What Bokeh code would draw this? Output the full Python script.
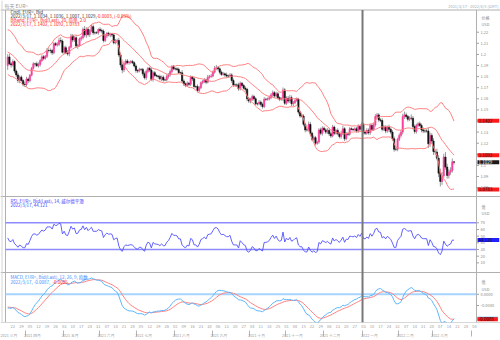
import numpy as np
import pandas as pd
from bokeh.plotting import figure
from bokeh.models import (Range1d, LinearAxis, FixedTicker, Span, Label, ColumnDataSource)
from bokeh.embed import file_html
from bokeh.resources import INLINE

FONT = "Noto Sans CJK SC"

# ---- daily closes (EUR= bid) ----
warmup_closes = [  # 2021-01-04 .. 2021-03-16 (only used for indicator warm-up)
    1.2250, 1.2295, 1.2325, 1.2270, 1.2220, 1.2150, 1.2210, 1.2160, 1.2155, 1.2080,
    1.2075, 1.2130, 1.2105, 1.2165, 1.2170, 1.2140, 1.2160, 1.2110, 1.2115, 1.2135,
    1.2060, 1.2040, 1.2035, 1.1965, 1.2045, 1.2050, 1.2120, 1.2120, 1.2130, 1.2120,
    1.2130, 1.2105, 1.2040, 1.2090, 1.2120, 1.2155, 1.2150, 1.2165, 1.2175, 1.2075,
    1.2050, 1.2090, 1.2065, 1.1965, 1.1915, 1.1850, 1.1900, 1.1925, 1.1985, 1.1950,
    1.1930, 1.1900]
closes_2021_03 = [1.1977, 1.1915, 1.1905, 1.1935, 1.1850, 1.1815, 1.1765, 1.1795, 1.1765, 1.1730, 1.1728]
closes_2021_04 = [1.1778, 1.1763, 1.1813, 1.1875, 1.1915, 1.1915, 1.1898, 1.1910, 1.1945, 1.1978, 1.1965,
                  1.1983, 1.2035, 1.2035, 1.2035, 1.2015, 1.2097, 1.2085, 1.2090, 1.2125, 1.2120, 1.2020]
closes_2021_05 = [1.2060, 1.2015, 1.2005, 1.2065, 1.2165, 1.2130, 1.2150, 1.2075, 1.2080, 1.2140, 1.2150,
                  1.2225, 1.2175, 1.2225, 1.2180, 1.2215, 1.2250, 1.2195, 1.2195, 1.2195, 1.2225]
closes_2021_06 = [1.2215, 1.2210, 1.2125, 1.2165, 1.2190, 1.2175, 1.2180, 1.2175, 1.2105, 1.2120, 1.2125,
                  1.1995, 1.1905, 1.1860, 1.1915, 1.1940, 1.1925, 1.1930, 1.1935, 1.1925, 1.1895, 1.1855]
closes_2021_07 = [1.1850, 1.1865, 1.1865, 1.1825, 1.1790, 1.1845, 1.1875, 1.1860, 1.1775, 1.1835, 1.1810,
                  1.1805, 1.1800, 1.1780, 1.1795, 1.1770, 1.1770, 1.1800, 1.1815, 1.1845, 1.1890, 1.1870]
closes_2021_08 = [1.1870, 1.1865, 1.1835, 1.1835, 1.1760, 1.1735, 1.1720, 1.1740, 1.1730, 1.1795, 1.1780,
                  1.1710, 1.1710, 1.1675, 1.1700, 1.1745, 1.1755, 1.1770, 1.1750, 1.1795, 1.1800, 1.1805]
closes_2021_09 = [1.1840, 1.1875, 1.1880, 1.1870, 1.1840, 1.1820, 1.1825, 1.1815, 1.1805, 1.1805, 1.1815,
                  1.1765, 1.1725, 1.1725, 1.1725, 1.1690, 1.1740, 1.1720, 1.1695, 1.1685, 1.1600, 1.1580]
closes_2021_10 = [1.1595, 1.1620, 1.1600, 1.1555, 1.1555, 1.1570, 1.1550, 1.1530, 1.1595, 1.1595, 1.1600,
                  1.1610, 1.1635, 1.1655, 1.1625, 1.1645, 1.1610, 1.1595, 1.1600, 1.1680, 1.1560]
closes_2021_11 = [1.1605, 1.1580, 1.1610, 1.1555, 1.1565, 1.1585, 1.1595, 1.1480, 1.1445, 1.1445, 1.1370,
                  1.1320, 1.1320, 1.1370, 1.1290, 1.1235, 1.1250, 1.1200, 1.1210, 1.1320, 1.1290, 1.1335]
closes_2021_12 = [1.1320, 1.1300, 1.1315, 1.1285, 1.1265, 1.1345, 1.1290, 1.1315, 1.1285, 1.1260, 1.1290,
                  1.1330, 1.1240, 1.1285, 1.1280, 1.1330, 1.1325, 1.1320, 1.1330, 1.1310, 1.1350, 1.1325, 1.1370]
closes_2022_01 = [1.1300, 1.1290, 1.1315, 1.1295, 1.1360, 1.1325, 1.1365, 1.1440, 1.1455, 1.1410, 1.1405,
                  1.1325, 1.1345, 1.1310, 1.1345, 1.1325, 1.1300, 1.1240, 1.1145, 1.1145, 1.1235]
closes_2022_02 = [1.1270, 1.1300, 1.1440, 1.1455, 1.1440, 1.1415, 1.1425, 1.1425, 1.1350, 1.1305, 1.1360,
                  1.1375, 1.1360, 1.1320, 1.1310, 1.1310, 1.1310, 1.1195, 1.1270, 1.1220]
closes_2022_03 = [1.1125, 1.1120, 1.1065, 1.0930, 1.0855, 1.0905, 1.1075, 1.0985, 1.0910, 1.0940, 1.0955,
                  1.1032, 1.1029]

# upper / lower wick lengths in pips beyond the candle body
upper_wick_pips = [
    25, 30, 18, 20, 12, 15, 20, 14, 16, 12, 24,
    20, 15, 10, 12, 14, 10, 20, 18, 12, 15, 16, 12, 22, 20, 18, 15, 12, 14, 20, 25, 30, 15,
    15, 20, 25, 12, 20, 18, 15, 20, 14, 12, 16, 18, 30, 20, 15, 12, 16, 20, 12, 14, 10,
    20, 18, 15, 20, 12, 14, 16, 12, 10, 18, 16, 25, 20, 14, 22, 15, 18, 12, 14, 16, 12, 15,
    12, 15, 10, 14, 20, 18, 12, 15, 20, 14, 16, 12, 10, 18, 14, 15, 12, 20, 16, 18, 12, 15,
    12, 14, 16, 10, 25, 15, 12, 18, 14, 16, 12, 14, 10, 20, 15, 12, 14, 16, 12, 20, 15, 18,
    15, 20, 25, 12, 14, 16, 18, 12, 20, 14, 16, 15, 18, 12, 14, 20, 16, 12, 14, 18, 15, 16,
    15, 18, 16, 14, 12, 18, 15, 16, 20, 14, 12, 18, 16, 20, 14, 18, 16, 12, 14, 22, 16,
    18, 20, 25, 20, 15, 12, 16, 14, 12, 18, 16, 14, 20, 25, 22, 14, 18, 16, 12, 15, 20, 18,
    16, 14, 20, 18, 16, 20, 14, 12, 18, 16, 22, 25, 14, 16, 18, 15, 12, 10, 14, 16, 20, 12, 18,
    14, 16, 20, 18, 15, 14, 20, 22, 18, 16, 15, 20, 18, 16, 14, 22, 15, 18, 20, 16, 14,
    18, 20, 25, 30, 20, 16, 18, 35, 20, 18, 16, 14, 20, 18, 22, 16, 18, 30, 25, 20,
    25, 20, 30, 28, 40, 35, 30, 45, 30, 25, 28, 30, 4]
lower_wick_pips = [
    40, 12, 25, 15, 20, 18, 22, 25, 12, 18, 22,
    18, 20, 15, 10, 12, 25, 12, 16, 20, 14, 18, 12, 15, 18, 25, 20, 14, 12, 16, 15, 20, 12,
    20, 14, 16, 22, 12, 20, 18, 15, 25, 12, 18, 15, 20, 25, 18, 22, 14, 20, 16, 12, 18,
    15, 20, 18, 14, 16, 12, 20, 18, 15, 14, 20, 18, 25, 30, 20, 12, 15, 18, 16, 14, 12, 20,
    18, 12, 15, 20, 15, 20, 14, 18, 16, 20, 14, 12, 18, 15, 20, 16, 12, 14, 18, 15, 16, 12,
    16, 14, 12, 18, 14, 20, 15, 12, 18, 14, 20, 16, 15, 18, 14, 12, 16, 14, 18, 12, 14, 10,
    12, 14, 18, 16, 20, 14, 12, 18, 15, 16, 14, 20, 18, 15, 20, 18, 14, 16, 12, 20, 22, 18,
    20, 14, 18, 12, 16, 14, 20, 18, 14, 16, 12, 15, 14, 18, 16, 12, 14, 16, 12, 20, 15,
    15, 20, 18, 22, 20, 14, 12, 20, 16, 14, 18, 22, 16, 14, 20, 18, 16, 20, 14, 15, 18, 22,
    14, 18, 16, 20, 18, 12, 16, 14, 15, 18, 20, 16, 22, 14, 16, 12, 10, 8, 12, 14, 16, 18, 14,
    20, 16, 14, 18, 20, 15, 14, 16, 18, 20, 16, 18, 14, 20, 16, 25, 18, 20, 22, 16, 18,
    16, 18, 20, 22, 18, 20, 16, 18, 25, 20, 18, 16, 14, 22, 20, 18, 16, 40, 30, 22,
    30, 25, 20, 35, 45, 30, 20, 25, 30, 28, 25, 20, 22]

price_ticks = [1.08, 1.09, 1.1, 1.11, 1.12, 1.13, 1.14, 1.15, 1.16, 1.17, 1.18, 1.19, 1.2, 1.21, 1.22]
price_tick_labels = ["1.08", "1.09", "1.1", "1.11", "1.12", "1.13", "1.14", "1.15", "1.16", "1.17",
                     "1.18", "1.19", "1.2", "1.21", "1.22"]
rsi_ticks = [10, 20, 30, 40, 50, 60, 70]
macd_ticks = [0.0, -0.004]
macd_tick_labels = ["0.0000", "-0.0040"]
month_names = ["一月", "二月", "三月", "四月", "五月", "六月", "七月", "八月", "九月", "十月", "十一月", "十二月"]

# ---- assemble data ----
closes = (closes_2021_03 + closes_2021_04 + closes_2021_05 + closes_2021_06 + closes_2021_07 +
          closes_2021_08 + closes_2021_09 + closes_2021_10 + closes_2021_11 + closes_2021_12 +
          closes_2022_01 + closes_2022_02 + closes_2022_03)
n = len(closes)
dates = pd.bdate_range("2021-03-17", periods=n)
axis_dates = pd.bdate_range("2021-03-17", "2022-04-05")
idx = np.arange(n)
opens = [warmup_closes[-1]] + closes[:-1]
highs = [max(o, c) + u / 10000 for o, c, u in zip(opens, closes, upper_wick_pips)]
lows = [min(o, c) - l / 10000 for o, c, l in zip(opens, closes, lower_wick_pips)]

s = pd.Series(warmup_closes + closes)
k = len(warmup_closes)
mid = s.rolling(20).mean()
sd = s.rolling(20).std(ddof=0)
bb_up = (mid + 2 * sd).iloc[k:].values
bb_mid = mid.iloc[k:].values
bb_lo = (mid - 2 * sd).iloc[k:].values
d = s.diff()
ag = d.clip(lower=0).ewm(alpha=1 / 14, adjust=False).mean()
al = (-d.clip(upper=0)).ewm(alpha=1 / 14, adjust=False).mean()
rsi = (100 - 100 / (1 + ag / al)).iloc[k:].values
macd_full = s.ewm(span=12, adjust=False).mean() - s.ewm(span=26, adjust=False).mean()
sig_full = macd_full.ewm(span=9, adjust=False).mean()
macd = macd_full.iloc[k:].values
sig = sig_full.iloc[k:].values

UP, DN = "#ff3d9e", "#111111"
colors = [UP if c > o else DN for o, c in zip(opens, closes)]
src = ColumnDataSource(dict(x=idx, o=opens, h=highs, l=lows, c=closes,
                            top=[max(o, c) for o, c in zip(opens, closes)],
                            bot=[min(o, c) for o, c in zip(opens, closes)],
                            col=colors, up=bb_up, mid=bb_mid, lo=bb_lo,
                            rsi=rsi, macd=macd, sig=sig))

# ---- layout geometry (canvas pixels) ----
W, H = 500, 340
FB = 322                    # bottom of the drawing frame (x-axis below)
X0, DX = 7.2, 1.71          # pixel of first session, pixels per session


def xpx(px):
    return (px - X0) / DX


TOP, MAIN_B, RSI_B = 9.5, 196, 272
LEFT_PX, RIGHT_PX = 5, 476

p = figure(width=W, height=H, x_range=Range1d(xpx(0), xpx(W)), y_range=Range1d(FB, 0),
           x_axis_location=None, y_axis_location=None,
           output_backend="svg", toolbar_location=None,
           min_border_left=0, min_border_right=0, min_border_top=0, min_border_bottom=H - FB)
p.grid.visible = False
p.outline_line_color = None
p.background_fill_color = "white"
p.border_fill_color = "white"
# panel value scales (price 1.22 at row 31.7, 11.1 px per 0.01; RSI 70 at row 222.3; MACD 0 at row 293.8)
p.extra_y_ranges = {
    "price": Range1d(1.22 - (FB - 31.7) / 1110, 1.22 + 31.7 / 1110),
    "rsi": Range1d(70 - (FB - 222.3) / 0.6675, 70 + 222.3 / 0.6675),
    "macd": Range1d(-(FB - 293.8) / 2800, 293.8 / 2800),
}

# frame lines
GRAY = "#b0b0b0"
p.segment(x0=[xpx(0)] * 4, x1=[xpx(W)] * 4, y0=[TOP, MAIN_B, RSI_B, FB], y1=[TOP, MAIN_B, RSI_B, FB],
          line_color=GRAY, line_width=1)
p.segment(x0=[xpx(LEFT_PX), xpx(RIGHT_PX)], x1=[xpx(LEFT_PX), xpx(RIGHT_PX)],
          y0=[TOP, TOP], y1=[FB, FB], line_color=GRAY, line_width=1)
p.add_layout(Span(location=xpx(1.5), dimension="height", line_color="#d4d4d4", line_width=1))

# price panel
p.segment(x0="x", y0="l", x1="x", y1="h", source=src, line_color="#9a9a9a", line_width=1,
          y_range_name="price")
p.vbar(x="x", width=0.75, top="top", bottom="bot", source=src,
       fill_color="col", line_color="col", line_width=0.6, y_range_name="price")
for col in ("up", "mid", "lo"):
    p.line("x", col, source=src, line_color="#ff8080", line_width=1, y_range_name="price")

# RSI panel
for lvl in (70, 30):
    p.segment(x0=xpx(LEFT_PX), x1=xpx(RIGHT_PX), y0=lvl, y1=lvl, line_color="#8c8cff",
              line_width=1.5, y_range_name="rsi")
p.line("x", "rsi", source=src, line_color="#5050ff", line_width=0.9, y_range_name="rsi")

# MACD panel
p.segment(x0=xpx(LEFT_PX), x1=xpx(RIGHT_PX), y0=0, y1=0, line_color="#a6d4ff",
          line_width=2, y_range_name="macd")
p.line("x", "sig", source=src, line_color="#ff8080", line_width=1, y_range_name="macd")
p.line("x", "macd", source=src, line_color="#5cb6ff", line_width=1, y_range_name="macd")

# year separator
year_idx = float(np.searchsorted(dates, pd.Timestamp("2022-01-01"))) - 0.5
p.segment(x0=year_idx, x1=year_idx, y0=TOP, y1=FB, line_color="#787878", line_width=2)


def txt(X, y, text, color, size="4.5px", align="left", bg=None, yr="default", pad=None):
    kw = dict(x=X, x_units="screen", y=y, y_units="data", text=text, text_color=color,
              text_font=FONT, text_font_size=size, text_align=align, text_baseline="middle")
    if yr != "default":
        kw["y_range_name"] = yr
    if bg is not None:
        kw.update(background_fill_color=bg,
                  padding=pad if pad is not None else dict(left=1, right=7, top=0, bottom=0))
    p.add_layout(Label(**kw))


# right-hand scales (tick marks + labels)
AXC = "#8c8c8c"
p.segment(x0=xpx(RIGHT_PX), x1=xpx(RIGHT_PX + 2.5), y0=price_ticks, y1=price_ticks,
          line_color="#a0a0a0", line_width=1, y_range_name="price")
for v, t in zip(price_ticks, price_tick_labels):
    txt(480, v, t, AXC, size="4px", yr="price")
p.segment(x0=xpx(RIGHT_PX), x1=xpx(RIGHT_PX + 2.5), y0=rsi_ticks, y1=rsi_ticks,
          line_color="#a0a0a0", line_width=1, y_range_name="rsi")
for v in rsi_ticks:
    txt(480, v, str(v), AXC, size="4px", yr="rsi")
p.segment(x0=xpx(RIGHT_PX), x1=xpx(RIGHT_PX + 2.5), y0=macd_ticks, y1=macd_ticks,
          line_color="#a0a0a0", line_width=1, y_range_name="macd")
for v, t in zip(macd_ticks, macd_tick_labels):
    txt(480, v, t, AXC, size="4px", yr="macd")

# header
txt(4, 5, "每天  EUR=", "#9a9a9a", size="5px")
txt(498, 5, "2021/3/17 - 2022/4/5 (GMT)", "#ababab", size="4px", align="right")

# price legend
txt(10, 11.5, "Cndl, EUR=, Bid", "#333333")
txt(10, 15.5, "2022/3/17, 1.1034, 1.1036, 1.1007, 1.1029,", "#333333")
txt(96, 15.5, "-0.0003, (-0.03%)", "#ff2020")
txt(10, 19.5, "BBand, EUR=, Bid(Last), 20, 简单, 2.0", "#ff2020")
txt(10, 23.5, "2022/3/17, 1.1402, 1.1092, 1.0783", "#ff2020")
txt(481, 17.5, "价格", AXC, size="4px")
txt(481, 23.5, "USD", AXC, size="4px")
txt(477, 1.1402, "1.1402", "#1a1a1a", size="4.5px", bg="#ff1a1a", yr="price")
txt(477, 1.1092, "1.1092", "#1a1a1a", size="4.5px", bg="#ff1a1a", yr="price")
txt(477, closes[-1], "1.1029", "#ffffff", size="4.5px", bg="#1a1a1a", yr="price")
txt(477, 1.0783, "1.0783", "#1a1a1a", size="4.5px", bg="#ff1a1a", yr="price")

# RSI legend
txt(10, 200, "RSI, EUR=, Bid(Last), 14, 威尔德平滑", "#3a3aff")
txt(10, 204.5, "2022/3/17, 44.121", "#3a3aff")
txt(481, 206, "值", AXC, size="4px")
txt(481, 212.5, "USD", AXC, size="4px")
txt(477, 44.121, "44.121", "#111111", size="4.5px", bg="#2020ff", yr="rsi")

# MACD legend
txt(10, 276.5, "MACD, EUR=, Bid(Last), 12, 26, 9, 指数", "#3a8cff")
txt(10, 281, "2022/3/17, -0.0087,", "#3a8cff")
txt(52, 281, "-0.0085", "#ff2020")
txt(481, 281.5, "值", AXC, size="4px")
txt(481, 288, "USD", AXC, size="4px")
txt(477, float(macd[-1]), "-0.0087", "#111111", size="4.5px", bg="#3aa6ff", yr="macd",
    pad=dict(left=1, right=4, top=0, bottom=0))
txt(477, float(sig[-1]), "-0.0085", "#111111", size="4.5px", bg="#ff1a1a", yr="macd",
    pad=dict(left=1, right=4, top=0, bottom=0))

# ---- x axis: Monday dates and month names ----
mon_pos = [int(i) for i, dt in enumerate(axis_dates) if dt.weekday() == 0]
mon_lab = {int(i): "%02d" % axis_dates[i].day for i in mon_pos}
day_ax = LinearAxis(ticker=FixedTicker(ticks=mon_pos, minor_ticks=[]), major_label_overrides=mon_lab)
day_ax.axis_line_color = None
day_ax.major_tick_line_color = None
day_ax.major_tick_out = 0
day_ax.major_tick_in = 0
day_ax.minor_tick_line_color = None
day_ax.minor_tick_out = 0
day_ax.major_label_standoff = 2
day_ax.major_label_text_font = FONT
day_ax.major_label_text_font_size = "4px"
day_ax.major_label_text_color = "#a0a0a0"
p.add_layout(day_ax, "below")

ym = [(dt.year, dt.month) for dt in axis_dates]
starts = [i for i in range(len(ym)) if i == 0 or ym[i] != ym[i - 1]]
bounds = [i - 0.5 for i in starts[1:]]
lab_pos, lab_txt = [], {}
for j, st in enumerate(starts):
    if st >= len(ym) - 3:
        continue
    pos = float(st + 3.5) if j > 0 else -2.0
    y_, m_ = ym[st]
    lab_pos.append(pos)
    lab_txt[pos] = "%d %s" % (y_, month_names[m_ - 1])
mon_ax = LinearAxis(ticker=FixedTicker(ticks=lab_pos, minor_ticks=bounds),
                    major_label_overrides=lab_txt)
mon_ax.axis_line_color = None
mon_ax.major_tick_line_color = None
mon_ax.major_tick_out = 0
mon_ax.major_tick_in = 0
mon_ax.minor_tick_line_color = "#b4b4b4"
mon_ax.minor_tick_out = 6
mon_ax.minor_tick_in = 0
mon_ax.major_label_standoff = -4
mon_ax.major_label_text_font = FONT
mon_ax.major_label_text_font_size = "3.8px"
mon_ax.major_label_text_color = "#a0a0a0"
mon_ax.major_label_text_align = "left"
p.add_layout(mon_ax, "below")

open("out.html", "w").write(file_html(p, INLINE))
